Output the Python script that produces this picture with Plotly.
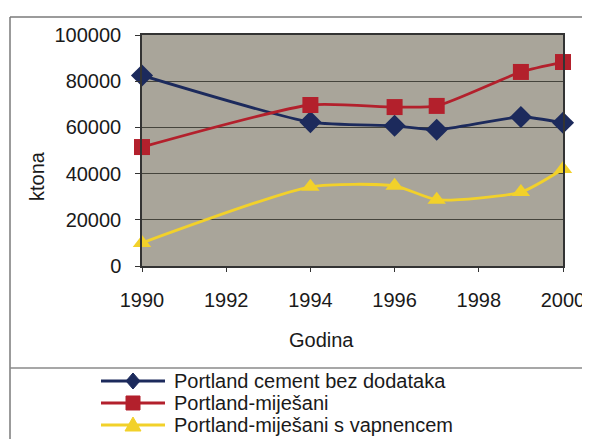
import plotly.graph_objects as go

years = [1990, 1994, 1996, 1997, 1999, 2000]
bez_dodataka = [82500, 62300, 60700, 59000, 64500, 62000]
mijesani = [51500, 69700, 68800, 69300, 84000, 88300]
s_vapnencem = [10000, 34300, 34700, 28700, 32000, 42000]

names = ["Portland cement bez dodataka", "Portland-miješani", "Portland-miješani s vapnencem"]
series = [bez_dodataka, mijesani, s_vapnencem]
colors = ["#1c2a5c", "#b3202c", "#f2d12a"]
symbols = ["diamond", "square", "triangle-up"]
sizes = [17, 16, 16]

xticks = [1990, 1992, 1994, 1996, 1998, 2000]
yticks = [0, 20000, 40000, 60000, 80000, 100000]

W, H = 590, 439
O = 8  # page body margin offset seen in the screenshot
# plot box in screenshot pixels: x 142..563, y 35..266
L = 142 - O
T = 35 - O
R = W - (563 - O)
B = H - (266 - O)
pw, ph = W - L - R, H - T - B

def px(x):
    return (x - O - L) / pw

def py(y):
    return (H - B - (y - O)) / ph

fig = go.Figure()
for n, s, c, sym, sz in zip(names, series, colors, symbols, sizes):
    fig.add_trace(go.Scatter(
        x=years, y=s, name=n, mode="lines+markers",
        line=dict(color=c, width=2.8, shape="spline", smoothing=0.6),
        marker=dict(symbol=sym, size=sz, color=c),
        cliponaxis=False, showlegend=False,
    ))

font_family = "Liberation Sans, Arial"
frame = dict(color="#7a7a7a", width=1.5)
shapes = [
    dict(type="line", xref="paper", yref="paper", x0=px(10), x1=px(586), y0=py(17), y1=py(17), line=frame),
    dict(type="line", xref="paper", yref="paper", x0=px(10), x1=px(10), y0=py(17), y1=py(439), line=frame),
    dict(type="line", xref="paper", yref="paper", x0=px(586), x1=px(586), y0=py(17), y1=py(439), line=frame),
    dict(type="line", xref="paper", yref="paper", x0=px(10), x1=px(586), y0=py(368), y1=py(368),
         line=dict(color="#8a8a8a", width=1.5)),
]
annotations = [
    dict(text="Godina", xref="paper", yref="paper", x=px(321), y=py(340),
         showarrow=False, font=dict(size=20, color="#1a1a1a"), xanchor="center", yanchor="middle"),
    dict(text="ktona", xref="paper", yref="paper", x=px(37), y=py(176), textangle=-90,
         showarrow=False, font=dict(size=20, color="#1a1a1a"), xanchor="center", yanchor="middle"),
]

# legend drawn manually (tight row spacing as in the reference)
rows = [381, 403, 425]
lx0, lx1, lmx, ltx = 101, 165, 133, 172
for n, c, sym, ry in zip(names, colors, symbols, rows):
    shapes.append(dict(type="line", xref="paper", yref="paper",
                       x0=px(lx0), x1=px(lx1), y0=py(ry), y1=py(ry),
                       line=dict(color=c, width=2.8)))
    r = 7
    if sym == "diamond":
        pts = [(lmx, ry - r - 1), (lmx + r, ry), (lmx, ry + r + 1), (lmx - r, ry)]
    elif sym == "square":
        pts = [(lmx - r, ry - r), (lmx + r, ry - r), (lmx + r, ry + r), (lmx - r, ry + r)]
    else:
        pts = [(lmx, ry - r - 1), (lmx + r + 1, ry + r - 1), (lmx - r - 1, ry + r - 1)]
    path = "M " + " L ".join(f"{px(a):.5f},{py(b):.5f}" for a, b in pts) + " Z"
    shapes.append(dict(type="path", xref="paper", yref="paper", path=path,
                       fillcolor=c, line=dict(color=c, width=1)))
    annotations.append(dict(text=n, xref="paper", yref="paper", x=px(ltx), y=py(ry),
                            showarrow=False, xanchor="left", yanchor="middle",
                            font=dict(size=20, color="#1a1a1a")))

fig.update_layout(
    width=W, height=H,
    margin=dict(l=L, r=R, t=T, b=B, autoexpand=False),
    paper_bgcolor="white",
    plot_bgcolor="#a9a59a",
    font=dict(family=font_family, size=20, color="#1a1a1a"),
    showlegend=False,
    xaxis=dict(
        range=[1990, 2000], tickvals=xticks,
        showgrid=False, zeroline=False, showline=True, linecolor="#333", linewidth=1.5,
        mirror=True, ticks="outside", ticklen=4, tickcolor="#333",
        ticklabelstandoff=11, automargin=False, ticklabeloverflow="allow",
        tickfont=dict(size=20),
    ),
    yaxis=dict(
        range=[0, 100000], tickvals=yticks,
        ticktext=[str(v) for v in yticks],
        showgrid=True, gridcolor="#45443c", gridwidth=1.3,
        zeroline=False, showline=True, linecolor="#333", linewidth=1.5, mirror=True,
        ticks="outside", ticklen=5, tickcolor="#333",
        ticklabelstandoff=10, automargin=False, ticklabeloverflow="allow",
        tickfont=dict(size=20),
    ),
    shapes=shapes,
    annotations=annotations,
)

fig.write_html("out.html")
